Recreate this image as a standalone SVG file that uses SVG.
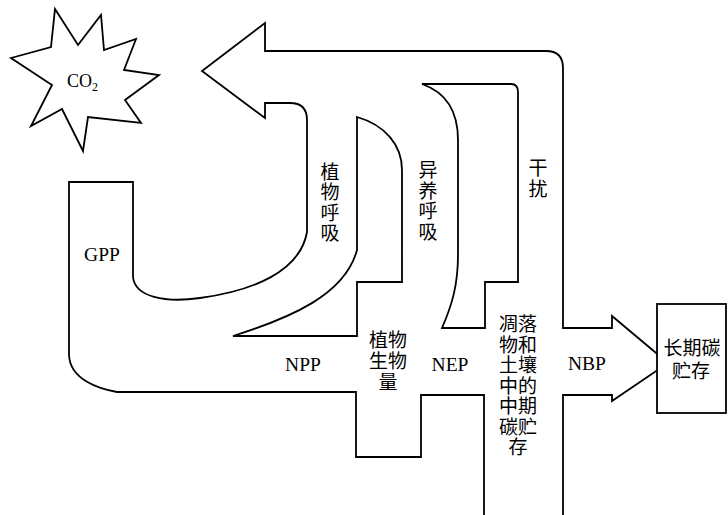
<svg xmlns="http://www.w3.org/2000/svg" width="728" height="515" viewBox="0 0 728 515">
<style>
.ln{fill:none;stroke:#000;stroke-width:1.8;stroke-linejoin:miter}
.bx{fill:#fff;stroke:#000;stroke-width:1.8}
.lat{font-family:"Liberation Serif","Times New Roman",serif;font-size:19.5px;fill:#000;text-anchor:middle}
.cjk{font-family:"Liberation Serif","Noto Sans CJK SC",sans-serif;font-size:19px;fill:#000;text-anchor:middle}
</style>
<rect x="0" y="0" width="728" height="515" fill="#fff"/>
<g id="flows">
  <path id="main-flow" class="ln" d="M484,520 L484,395 L421,395 L421,457 L356,457 L356,392 L117,392 C100,389 70,380 69,355 L69,182 L133,182 L133,277 C135,297 165,303 200,298 C252,291 300,272 307,232 L307,120 Q307,103 290,103 L265,103 L265,118 L202,71 L265,23 L265,51 L546,51 Q563,51 563,68 L563,328 L612,328 L612,316 L668,363 L612,401 L612,395 L563,395 L563,520"/>
  <path id="wall-plant-resp" class="ln" d="M357,117 C385,125 402,145 402,170 L402,282 L357,282 L357,336 L233,336 C290,318 345,295 357,250 Z"/>
  <path id="wall-hetero-resp" class="ln" d="M422,84 L511,84 Q518,84 518,92 L518,282 L485,282 L485,328 L442,328 C452,305 458,285 458,255 L458,140 C458,110 445,92 422,84 Z"/>
</g>
<g id="co2">
  <polygon class="bx" points="55,9 78,45 101,15 104,50 136,39 124,70 159,75 125,100 141,123 88,117 83,151 62,109 31,126 52,85 11,58 51,47"/>
  <text x="67" y="87" font-family="Liberation Serif,serif" font-size="18">CO<tspan font-size="12" dy="4">2</tspan></text>
</g>
<g id="long-term-storage">
  <rect class="bx" x="657" y="304" width="69" height="109"/>
  <text class="cjk" x="692" y="355">长期碳</text>
  <text class="cjk" x="691" y="378">贮存</text>
</g>
<g id="labels">
  <text class="lat" x="102" y="261">GPP</text>
  <text class="lat" x="303" y="371">NPP</text>
  <text class="lat" x="450" y="371">NEP</text>
  <text class="lat" x="587" y="370">NBP</text>
  <text class="cjk" x="330" y="179"><tspan x="330">植</tspan><tspan x="330" dy="20.3">物</tspan><tspan x="330" dy="20.3">呼</tspan><tspan x="330" dy="20.3">吸</tspan></text>
  <text class="cjk" x="428" y="177"><tspan x="428">异</tspan><tspan x="428" dy="20.5">养</tspan><tspan x="428" dy="20.5">呼</tspan><tspan x="428" dy="20.5">吸</tspan></text>
  <text class="cjk" x="538" y="175"><tspan x="538">干</tspan><tspan x="538" dy="21">扰</tspan></text>
  <text class="cjk" x="388" y="347"><tspan x="388">植物</tspan><tspan x="388" dy="21">生物</tspan><tspan x="388" dy="21">量</tspan></text>
  <text class="cjk" x="518" y="331"><tspan x="518">凋落</tspan><tspan x="518" dy="20.5">物和</tspan><tspan x="518" dy="20.5">土壤</tspan><tspan x="518" dy="20.5">中的</tspan><tspan x="518" dy="20.5">中期</tspan><tspan x="518" dy="20.5">碳贮</tspan><tspan x="518" dy="20.5">存</tspan></text>
</g>
</svg>
